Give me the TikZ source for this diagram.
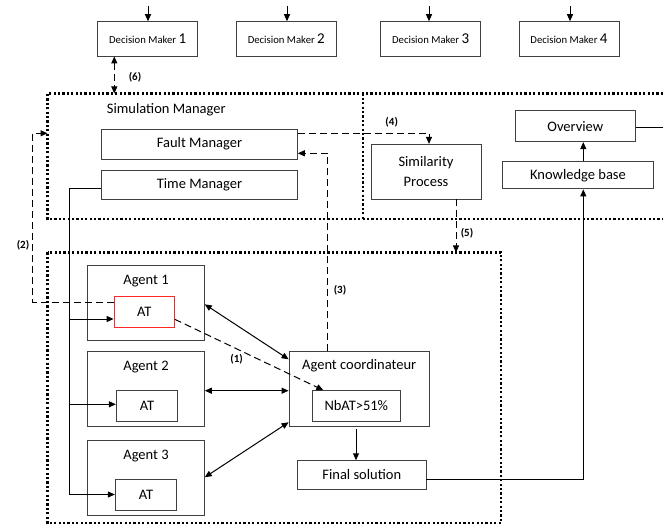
\documentclass[tikz,border=0pt]{standalone}
\usepackage{fontspec}
\setmainfont{Carlito}
\usetikzlibrary{arrows.meta,calc}
\begin{document}
\begin{tikzpicture}[x=1pt,y=-1pt,
 box/.style={draw=black!75,line width=0.9pt,rectangle,inner sep=0pt,align=center,font=\fontsize{14.5}{20}\selectfont},
 dmbox/.style={box,minimum width=100pt,minimum height=34.3pt,font=\fontsize{10.7}{12}\selectfont},
 txt/.style={inner sep=0pt,font=\fontsize{14.5}{17}\selectfont},
 lbl/.style={inner sep=0pt,font=\bfseries\fontsize{11}{12}\selectfont},
 dotline/.style={line width=2.4pt,dash pattern=on 2.2pt off 2.2pt},
 dashline/.style={line width=1pt,dash pattern=on 7pt off 4pt},
 conn/.style={line width=1pt,draw=black},
 tip/.style={-{Triangle[length=7pt,width=6pt]}},
 dbl/.style={{Triangle[length=7pt,width=6pt]}-{Triangle[length=7pt,width=6pt]}}
]
\useasboundingbox (0,0) rectangle (663,526);

% dotted frames
\draw[dotline] (663,93.5) -- (47.5,93.5) -- (47.5,219) -- (663,219);
\draw[dotline] (362.7,93.5) -- (362.7,219);
\draw[dotline] (47.5,252.5) rectangle (501,523);

% decision makers
\node[dmbox] (dm1) at (147.7,38.85) {Decision Maker {\fontsize{15}{15}\selectfont 1}};
\node[dmbox] (dm2) at (286.3,38.85) {Decision Maker {\fontsize{15}{15}\selectfont 2}};
\node[dmbox] (dm3) at (430.7,38.85) {Decision Maker {\fontsize{15}{15}\selectfont 3}};
\node[dmbox] (dm4) at (569,38.85) {Decision Maker {\fontsize{15}{15}\selectfont 4}};

% simulation manager
\node[txt] (smt) at (166.3,110) {Simulation Manager};
\node[box,minimum width=195.6pt,minimum height=30.3pt] (fault) at (199.5,144.2) {Fault Manager};
\node[box,minimum width=195.6pt,minimum height=29pt] (tm) at (199.5,184.5) {Time Manager};
\node[box,minimum width=110pt,minimum height=54.7pt] (sim) at (426,171.7) {Similarity\\Process};
\node[box,minimum width=120.7pt,minimum height=30.7pt] (ov) at (575.3,126.3) {Overview};
\node[box,minimum width=150.6pt,minimum height=27.3pt] (kb) at (578,175.3) {Knowledge base};

% agents
\node[box,minimum width=116.6pt,minimum height=75pt] (a1) at (146,302.5) {};
\node[txt] (a1t) at (146,280.7) {Agent 1};
\node[box,draw=red!85,minimum width=60.3pt,minimum height=30.6pt] (at1) at (144.2,312) {AT};
\node[box,minimum width=116.6pt,minimum height=74.3pt] (a2) at (146,388.8) {};
\node[txt] (a2t) at (146,366.7) {Agent 2};
\node[box,minimum width=61.4pt,minimum height=30.3pt] (at2) at (147,405.8) {AT};
\node[box,minimum width=116.6pt,minimum height=75pt] (a3) at (146,478.2) {};
\node[txt] (a3t) at (146,456) {Agent 3};
\node[box,minimum width=61.4pt,minimum height=30.7pt] (at3) at (146,494.7) {AT};

\node[box,minimum width=140.3pt,minimum height=74.3pt] (coord) at (359.2,388.8) {};
\node[txt] (coordt) at (359.2,366) {Agent coordinateur};
\node[box,minimum width=88pt,minimum height=30.3pt] (nbat) at (356.3,405.8) {NbAT>51\%};
\node[box,minimum width=128.3pt,minimum height=28.6pt] (final) at (361.8,475) {Final solution};

% top input arrows
\coordinate (t1) at (148,6);
\coordinate (t2) at (287,6);
\coordinate (t3) at (429,6);
\coordinate (t4) at (570,6);
\draw[conn,tip] (t1) -- (t1 |- dm1.north);
\draw[conn,tip] (t2) -- (t2 |- dm2.north);
\draw[conn,tip] (t3) -- (t3 |- dm3.north);
\draw[conn,tip] (t4) -- (t4 |- dm4.north);

% (6)
\coordinate (smtop) at (114.3,93.5);
\draw[conn,dashline,dbl] (dm1.south -| smtop) -- (smtop);
\node[lbl] (l6) at (135,77) {(6)};

% (4)
\coordinate (p4) at (429,133.3);
\draw[conn,dashline,tip] (fault.east |- p4) -- (p4) -- (p4 |- sim.north);
\node[lbl] (l4) at (391.7,122) {(4)};

% (3)
\coordinate (p3) at (327.7,153.3);
\draw[conn,dashline,tip] (coord.north -| p3) -- (p3) -- (p3 -| fault.east);
\node[lbl] (l3) at (340,290) {(3)};

% (5)
\coordinate (p5) at (456,252.5);
\draw[conn,dashline,tip] (sim.south -| p5) -- (p5);
\node[lbl] (l5) at (467,233) {(5)};

% (2)
\coordinate (p2a) at (32.7,302);
\coordinate (p2b) at (47.5,133.3);
\draw[conn,dashline,tip] (at1.west |- p2a) -- (p2a) |- (p2b);
\node[lbl] (l2) at (23,245) {(2)};

% (1)
\coordinate (p1a) at (174.3,319.3);
\coordinate (p1b) at (323.3,0);
\draw[conn,dashline,tip] (at1.east |- p1a) -- (p1b |- nbat.north);
\node[lbl] (l1) at (236.7,359) {(1)};

% time manager distribution
\coordinate (tmx) at (69,188.3);
\coordinate (b1) at (69,319);
\coordinate (b2) at (69,404.3);
\coordinate (b3) at (69,494.5);
\draw[conn] (tm.west |- tmx) -- (tmx) -- (b3);
\draw[conn,tip] (b1) -- (b1 -| at1.west);
\draw[conn,tip] (b2) -- (b2 -| at2.west);
\draw[conn,tip] (b3) -- (b3 -| at3.west);

% agents <-> coordinator
\draw[conn,dbl] ($(a1.east)+(0,1.8)$) -- ($(coord.west)+(0,-29.5)$);
\draw[conn,dbl] ($(a2.east)+(0,1.9)$) -- ($(coord.west)+(0,1.9)$);
\draw[conn,dbl] ($(a3.east)+(0,-0.9)$) -- ($(coord.west)+(0,33.5)$);

% coordinator -> final solution
\coordinate (p6) at (356,429);
\draw[conn,tip] (p6) -- (p6 |- final.north);

% final -> knowledge base -> overview
\coordinate (p7) at (583.3,479.3);
\draw[conn,tip] (final.east |- p7) -- (p7) -- (p7 |- kb.south);
\draw[conn,tip] (kb.north -| p7) -- (ov.south -| p7);
\coordinate (p8) at (663,127.7);
\draw[conn] (ov.east |- p8) -- (p8);
\end{tikzpicture}
\end{document}
